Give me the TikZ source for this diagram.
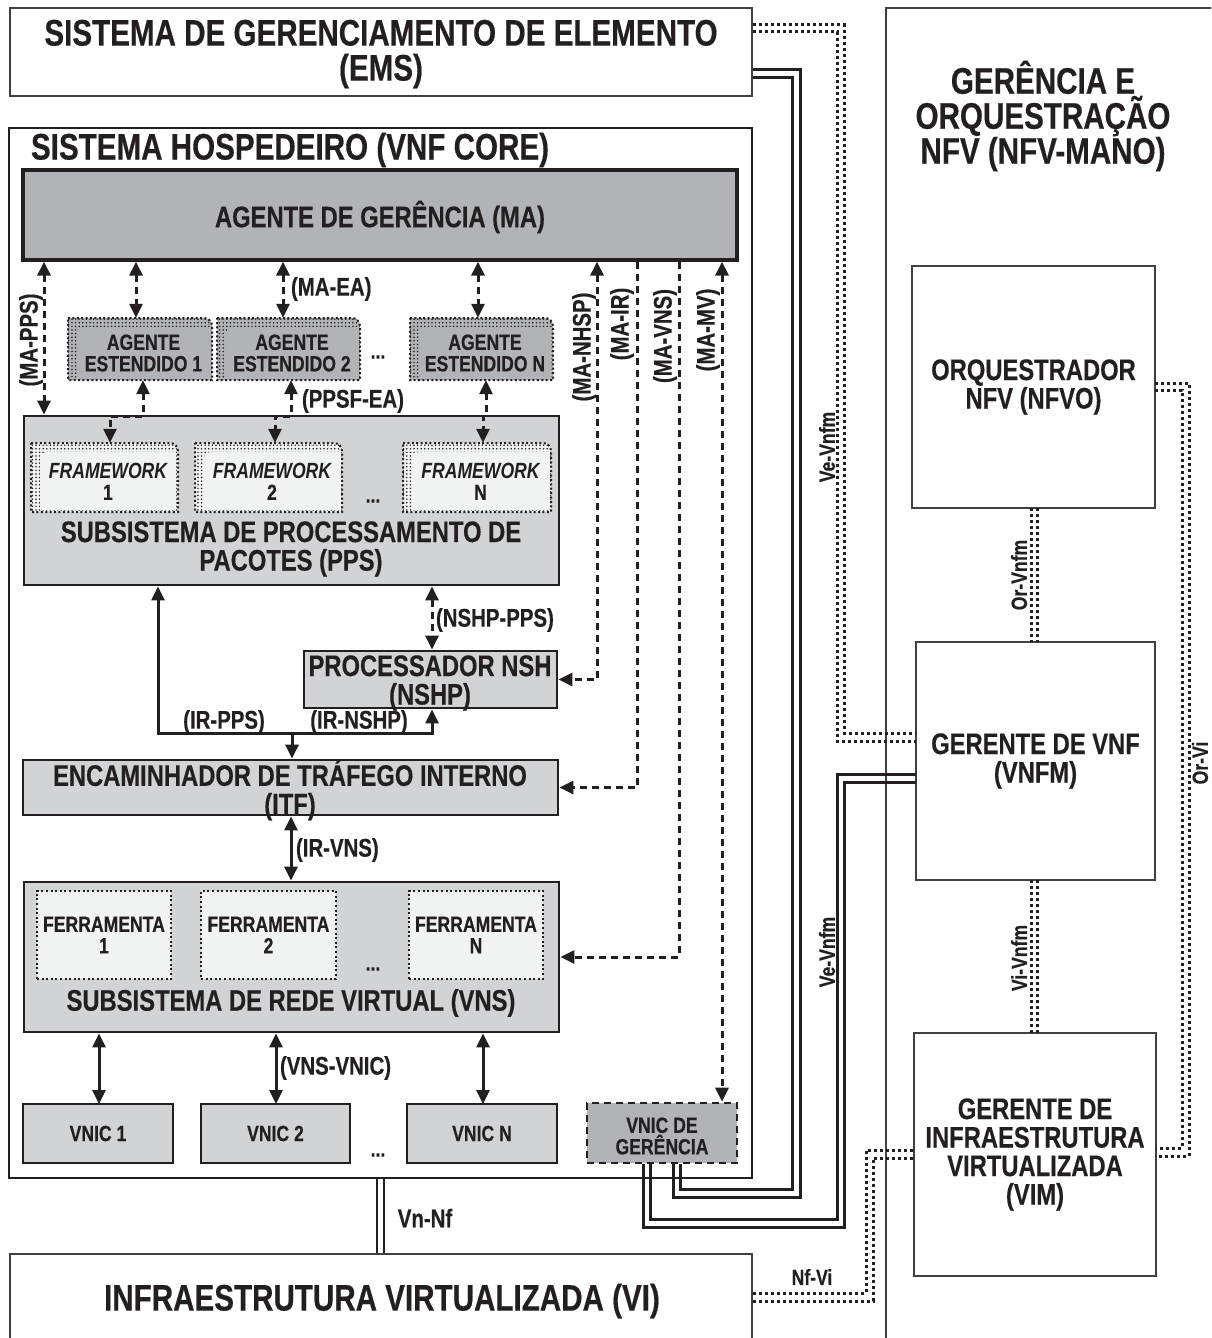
\documentclass[tikz,border=0pt]{standalone}
\usepackage{fontspec}
\setmainfont{Liberation Sans}[FakeStretch=0.8, BoldFeatures={FakeBold=0.4}]
\usetikzlibrary{arrows.meta,patterns.meta,calc}

\definecolor{ink}{HTML}{231F20}
\definecolor{edge}{HTML}{404040}
\definecolor{gmid}{HTML}{B1B3B6}
\definecolor{glight}{HTML}{D1D3D4}
\definecolor{gpale}{HTML}{F1F2F2}

\tikzset{
  txt/.style={text=ink, align=center, inner sep=0pt, outer sep=0pt},
  fA/.style={font=\bfseries\fontsize{37}{35}\selectfont},
  fM/.style={font=\bfseries\fontsize{37}{35}\selectfont},
  fB/.style={font=\bfseries\fontsize{29.7}{28.5}\selectfont},
  fC/.style={font=\bfseries\fontsize{22}{21.5}\selectfont},
  fL/.style={font=\bfseries\fontsize{25.5}{25}\selectfont},
  fI/.style={font=\bfseries\fontsize{22}{22}\selectfont},
  thinbox/.style={draw=edge, line width=1.5pt, fill=white},
  heavybox/.style={draw=ink, line width=2.8pt},
  toolbox/.style={draw=ink, line width=2pt, dash pattern=on 2pt off 2.6pt, fill=gpale},
  dsh/.style={draw=ink, line width=3pt, dash pattern=on 7pt off 5pt},
  arr/.style={draw=ink, line width=3pt},
  dots2/.style={draw=ink, line width=3pt, dash pattern=on 3pt off 3pt},
  wire/.style={draw=ink, line width=3pt},
  >={Triangle[length=14pt,width=13pt]},
}

% box node from its corners: [options]{name}{x0}{y0}{x1}{y1}{text}
\newcommand\bx[7][]{\node[#1, minimum width={(#5-#3)*1pt}, minimum height={(#6-#4)*1pt}] (#2) at ({(#3+#5)/2},{(#4+#6)/2}) {#7};}

% box with a stippled drop frame: {name}{x0}{y0}{x1}{y1}{fill}{text}
\newcommand\shbox[7]{%
  \path[fill=#6, postaction={pattern={Dots[distance=3.6pt,radius=0.85pt]}, pattern color=ink}]
    (#2,#3) -- ({#4-8},#3) arc[start angle=-90,end angle=0,radius=8] -- (#4,#5) -- (#2,#5) -- cycle;
  \fill[#6] ({#2+9},{#5-2}) -- ({#2+9},{#3+16}) arc[start angle=180,end angle=270,radius=7]
    -- ({#4-2},{#3+9}) -- ({#4-2},{#5-2}) -- cycle;
  \draw[ink, line width=2pt, dash pattern=on 2pt off 2.4pt]
    (#2,#3) -- ({#4-8},#3) arc[start angle=-90,end angle=0,radius=8] -- (#4,#5) -- (#2,#5) -- cycle;
  \node[minimum width={(#4-#2)*1pt}, minimum height={(#5-#3)*1pt}, inner sep=0pt] (#1) at ({(#2+#4)/2},{(#3+#5)/2}) {};
  \node[txt, fC] (#1t) at ({(#2+#4)/2+3.5},{(#3+#5)/2+4}) {#7};
}

\begin{document}
\begin{tikzpicture}[x=1pt,y=-1pt]
\useasboundingbox (0,0) rectangle (1211,1338);
\begin{scope}
\clip (0,0) rectangle (1211,1338);

% ---------- NFV-MANO ----------
\bx[thinbox]{mano}{886}{8}{1240}{1370}{}
\node[txt,fM] (manoT) at (1043,116) {GERÊNCIA E\\ORQUESTRAÇÃO\\NFV (NFV-MANO)};
\bx[thinbox,txt,fB]{nfvo}{912}{266}{1155}{508}{ORQUESTRADOR\\NFV (NFVO)}
\bx[thinbox,txt,fB]{vnfm}{916}{642}{1155}{880}{GERENTE DE VNF\\(VNFM)}
\bx[thinbox,txt,fB]{vim}{914}{1033}{1156}{1276}{GERENTE DE\\INFRAESTRUTURA\\VIRTUALIZADA\\(VIM)}

% ---------- EMS, host, infrastructure ----------
\bx[thinbox]{ems}{10}{8}{752}{96}{}
\node[txt,fA] (emsT) at (381,54) {SISTEMA DE GERENCIAMENTO DE ELEMENTO\\(EMS)};
\bx[heavybox,fill=white]{core}{9}{128}{752}{1178}{}
\node[txt,fA,anchor=west] (coreT) at (31,150) {SISTEMA HOSPEDEIRO (VNF CORE)};
\bx[thinbox]{vi}{10}{1254}{752}{1370}{}
\node[txt,fA] (viT) at (382,1301) {INFRAESTRUTURA VIRTUALIZADA (VI)};

% ---------- management agent and extended agents ----------
\bx[heavybox,line width=3.2pt,fill=gmid]{ma}{23}{170}{737}{260}{}
\node[txt,fB] (maT) at (380,217) {AGENTE DE GERÊNCIA (MA)};
\shbox{ae1}{68}{318}{212}{380}{gmid}{AGENTE\\ESTENDIDO 1}
\shbox{ae2}{217}{318}{360}{380}{gmid}{AGENTE\\ESTENDIDO 2}
\shbox{aeN}{410}{318}{553}{380}{gmid}{AGENTE\\ESTENDIDO N}
\node[txt,fC] (dotsA) at (378,357) {...};

% ---------- packet processing ----------
\bx[heavybox,fill=glight]{pps}{24}{416}{559}{585}{}
\shbox{fw1}{31}{443}{178}{512}{gpale}{{\itshape FRAMEWORK}\\1}
\shbox{fw2}{195}{443}{342}{512}{gpale}{{\itshape FRAMEWORK}\\2}
\shbox{fwN}{403}{443}{551}{512}{gpale}{{\itshape FRAMEWORK}\\N}
\node[txt,fC] (dotsB) at (373,501) {...};
\node[txt,fB] (ppsT) at (291,549) {SUBSISTEMA DE PROCESSAMENTO DE\\PACOTES (PPS)};

\bx[heavybox,fill=glight]{nshp}{304}{651}{557}{708}{}
\node[txt,fB] (nshpT) at (430,683) {PROCESSADOR NSH\\(NSHP)};
\bx[heavybox,fill=glight]{itf}{23}{760}{558}{815}{}
\node[txt,fB] (itfT) at (290,790) {ENCAMINHADOR DE TRÁFEGO INTERNO\\(ITF)};

% ---------- virtual network ----------
\bx[heavybox,fill=glight]{vns}{24}{882}{559}{1032}{}
\bx[toolbox,txt,fC]{t1}{37}{891}{171}{979}{FERRAMENTA\\1}
\bx[toolbox,txt,fC]{t2}{201}{891}{336}{979}{FERRAMENTA\\2}
\bx[toolbox,txt,fC]{tN}{409}{891}{543}{979}{FERRAMENTA\\N}
\node[txt,fC] (dotsC) at (373,969) {...};
\node[txt,fB] (vnsT) at (291,1003) {SUBSISTEMA DE REDE VIRTUAL (VNS)};

\bx[heavybox,line width=2.4pt,fill=glight,txt,fC]{v1}{23}{1104}{173}{1163}{VNIC 1}
\bx[heavybox,line width=2.4pt,fill=glight,txt,fC]{v2}{201}{1104}{350}{1163}{VNIC 2}
\bx[heavybox,line width=2.4pt,fill=glight,txt,fC]{vN}{407}{1104}{557}{1163}{VNIC N}
\bx[draw=ink,line width=2.6pt,dash pattern=on 7pt off 5pt,fill=gmid]{vg}{587}{1103}{737}{1163}{}
\node[txt,fC] (vgT) at (662,1136) {VNIC DE\\GERÊNCIA};
\node[txt,fC] (dotsD) at (378,1155) {...};

% ---------- reference positions for connectors ----------
\coordinate (xa) at (44,0);
\coordinate (xb1) at (136,0); \coordinate (xb2) at (283,0); \coordinate (xb3) at (478,0);
\coordinate (xc1) at (143,0); \coordinate (xc2) at (291,0); \coordinate (xc3) at (486,0);
\coordinate (xd1) at (110,0); \coordinate (xd2) at (275,0); \coordinate (xd3) at (483,0);
\coordinate (yj) at (0,416);
\coordinate (xn) at (597,0); \coordinate (xi) at (637,0);
\coordinate (xv) at (679,0); \coordinate (xm) at (722,0);
\coordinate (xp) at (158,0); \coordinate (xq) at (432,0); \coordinate (jn) at (292,733);
\coordinate (xr) at (291,0);
\coordinate (xs1) at (99,0); \coordinate (xs2) at (276,0); \coordinate (xs3) at (483,0);
\coordinate (xw1) at (377,0); \coordinate (xw2) at (384,0);
\coordinate (xo1) at (1031,0); \coordinate (xo2) at (1037,0);
\coordinate (cA) at (800,1197); \coordinate (cB) at (792,1189);
\coordinate (cC) at (844,1227); \coordinate (cD) at (837,1219);
\coordinate (cE) at (844,733);  \coordinate (cF) at (837,741);
\coordinate (cG) at (1189,1156); \coordinate (cH) at (1182,1148);
\coordinate (cI) at (866,1150); \coordinate (cJ) at (873,1158);

% ---------- internal connectors ----------
\draw[dsh,<->] (ma.south -| xa) -- (pps.north -| xa);
\draw[dsh,<->] (ma.south -| xb1) -- (ae1.north -| xb1);
\draw[dsh,<->] (ma.south -| xb2) -- (ae2.north -| xb2);
\draw[dsh,<->] (ma.south -| xb3) -- (aeN.north -| xb3);
\draw[dsh,<->] (ae1.south -| xc1) -- (xc1 |- yj) -| (fw1.north -| xd1);
\draw[dsh,<->] (ae2.south -| xc2) -- (xc2 |- yj) -| (fw2.north -| xd2);
\draw[dsh,<->] (aeN.south -| xc3) -- (xc3 |- yj) -| (fwN.north -| xd3);
\draw[dsh,<->] (ma.south -| xn) |- (nshp.east);
\draw[dsh,->] (ma.south -| xi) |- (itf.east);
\draw[dsh,->] (ma.south -| xv) |- (vns.east);
\draw[dsh,<->] (ma.south -| xm) -- (vg.north -| xm);
\draw[dsh,<->] (pps.south -| xq) -- (nshp.north -| xq);
\draw[arr,<->] (pps.south -| xp) -- (xp |- jn) -- (xq |- jn) -- (nshp.south -| xq);
\draw[arr,->] (jn) -- (itf.north -| jn);
\draw[arr,<->] (itf.south -| xr) -- (vns.north -| xr);
\draw[arr,<->] (vns.south -| xs1) -- (v1.north -| xs1);
\draw[arr,<->] (vns.south -| xs2) -- (v2.north -| xs2);
\draw[arr,<->] (vns.south -| xs3) -- (vN.north -| xs3);

% ---------- reference points between blocks ----------
\draw[ink,line width=2.2pt] (core.south -| xw1) -- (vi.north -| xw1);
\draw[ink,line width=2.2pt] (core.south -| xw2) -- (vi.north -| xw2);
\draw[wire] ([yshift=-18pt]ems.east) -| (cA) -| ([xshift=11pt]vg.south);
\draw[wire] ([yshift=-25pt]ems.east) -| (cB) -| ([xshift=18pt]vg.south);
\draw[wire] ([xshift=-19pt]vg.south) |- (cC) |- ([yshift=-21pt]vnfm.west);
\draw[wire] ([xshift=-12pt]vg.south) |- (cD) |- ([yshift=-13pt]vnfm.west);
\draw[dots2] ([yshift=27pt]ems.east) -| (cE) -- ([yshift=28pt]vnfm.west);
\draw[dots2] ([yshift=20pt]ems.east) -| (cF) -- ([yshift=20pt]vnfm.west);
\draw[dots2] (nfvo.south -| xo1) -- (vnfm.north -| xo1);
\draw[dots2] (nfvo.south -| xo2) -- (vnfm.north -| xo2);
\draw[dots2] (vnfm.south -| xo1) -- (vim.north -| xo1);
\draw[dots2] (vnfm.south -| xo2) -- (vim.north -| xo2);
\draw[dots2] ([yshift=4pt]nfvo.east) -| (cG) -- ([yshift=-1.5pt]vim.east);
\draw[dots2] ([yshift=-3pt]nfvo.east) -| (cH) -- ([yshift=6.5pt]vim.east);
\draw[dots2] ([yshift=19pt]vi.east) -| (cI) -- ([yshift=4.5pt]vim.west);
\draw[dots2] ([yshift=11pt]vi.east) -| (cJ) -- ([yshift=-3.5pt]vim.west);

% ---------- labels ----------
\node[txt,fL,rotate=90] (lMaPps) at (31,340) {(MA-PPS)};
\node[txt,fL,anchor=west] (lMaEa) at (291,289) {(MA-EA)};
\node[txt,fL,anchor=west] (lPpsf) at (302,401) {(PPSF-EA)};
\node[txt,fL,rotate=90] (lMaNh) at (584,347) {(MA-NHSP)};
\node[txt,fL,rotate=90] (lMaIr) at (622,324) {(MA-IR)};
\node[txt,fL,rotate=90] (lMaVn) at (665,336) {(MA-VNS)};
\node[txt,fL,rotate=90] (lMaMv) at (708,330) {(MA-MV)};
\node[txt,fL,anchor=west] (lNp) at (436,620) {(NSHP-PPS)};
\node[txt,fL] (lIrP) at (224,722) {(IR-PPS)};
\node[txt,fL] (lIrN) at (359,722) {(IR-NSHP)};
\node[txt,fL,anchor=west] (lIrV) at (296,850) {(IR-VNS)};
\node[txt,fL,anchor=west] (lVv) at (280,1068) {(VNS-VNIC)};
\node[txt,fL] (lVn) at (425,1218) {Vn-Nf};
\node[txt,fI,rotate=90] (lVe1) at (827,447) {Ve-Vnfm};
\node[txt,fI,rotate=90] (lVe2) at (827,952) {Ve-Vnfm};
\node[txt,fI,rotate=90] (lOv) at (1019,575) {Or-Vnfm};
\node[txt,fI,rotate=90] (lVi) at (1019,958) {Vi-Vnfm};
\node[txt,fI,rotate=90] (lOr) at (1200,763) {Or-Vi};
\node[txt,fI] (lNf) at (812,1277) {Nf-Vi};
\end{scope}
\end{tikzpicture}
\end{document}
